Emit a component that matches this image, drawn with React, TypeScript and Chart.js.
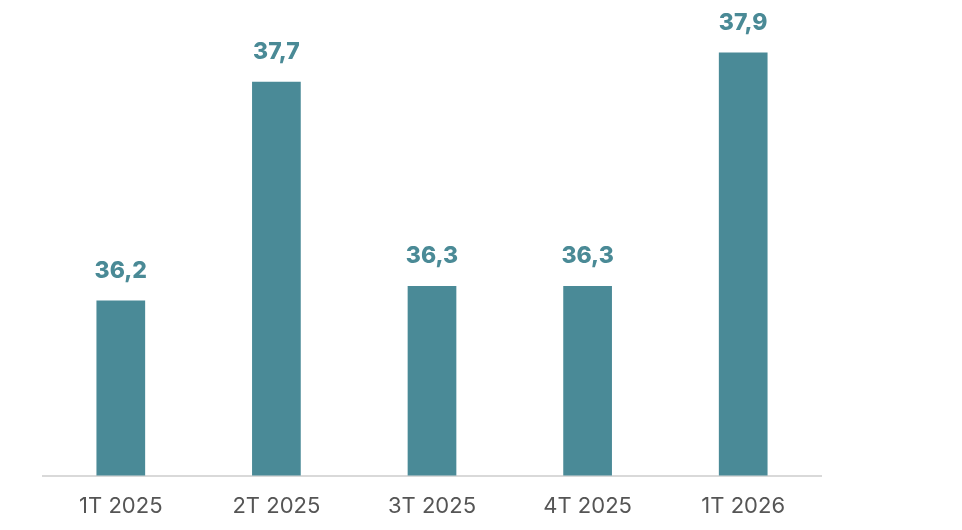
import React, { useEffect, useRef } from "react";
import { Chart, registerables } from "chart.js";

Chart.register(...registerables);

const categories = ["1T 2025", "2T 2025", "3T 2025", "4T 2025", "1T 2026"];
const values = [36.2, 37.7, 36.3, 36.3, 37.9];
const valueLabels = ["36,2", "37,7", "36,3", "36,3", "37,9"];

const BAR_COLOR = "#4a8a97";
const LABEL_COLOR = "#4a8a96";

const valueLabelPlugin = {
  id: "valueLabels",
  afterDatasetsDraw(chart: any) {
    const ctx = chart.ctx;
    const meta = chart.getDatasetMeta(0);
    ctx.save();
    ctx.font = "800 23px Inter";
    ctx.fillStyle = LABEL_COLOR;
    ctx.textAlign = "center";
    ctx.textBaseline = "alphabetic";
    meta.data.forEach((bar: any, i: number) => {
      ctx.fillText(valueLabels[i], bar.x, bar.y - 23);
    });
    ctx.restore();
  },
};

export default function App() {
  const ref = useRef<HTMLCanvasElement>(null);
  useEffect(() => {
    if (!ref.current) return;
    const chart = new Chart(ref.current, {
      type: "bar",
      data: {
        labels: categories,
        datasets: [
          {
            data: values,
            backgroundColor: BAR_COLOR,
            barPercentage: 0.313,
            categoryPercentage: 1,
          },
        ],
      },
      options: {
        animation: false,
        responsive: true,
        maintainAspectRatio: false,
        layout: { padding: { left: 43, right: 141, top: 38, bottom: 0 } },
        plugins: { legend: { display: false }, tooltip: { enabled: false } },
        scales: {
          y: { display: false, min: 35, max: 38 },
          x: {
            grid: { display: false },
            border: { color: "#d9d9d9", width: 2 },
            ticks: {
              color: "#555555",
              font: { family: "Inter", size: 22 },
              padding: 10,
            },
          },
        },
      },
      plugins: [valueLabelPlugin],
    });
    return () => chart.destroy();
  }, []);
  return (
    <div style={{ position: "absolute", left: 0, top: 0, width: 962, height: 530 }}>
      <canvas ref={ref} />
    </div>
  );
}
